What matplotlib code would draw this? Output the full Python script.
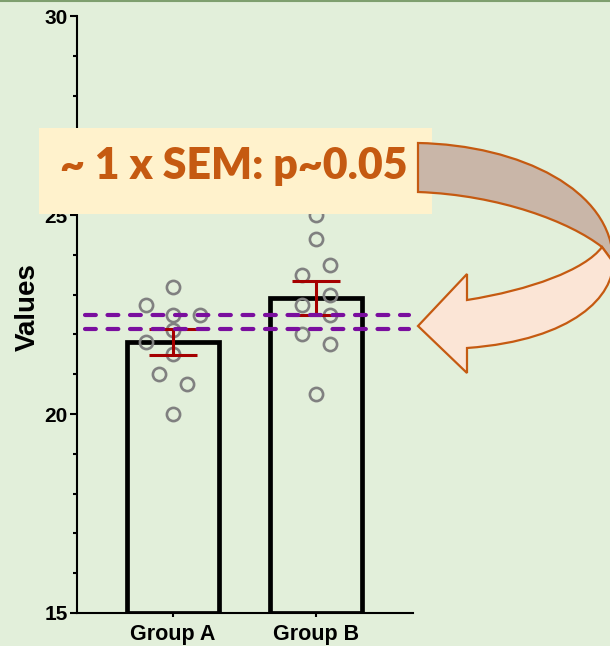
import numpy as np
import matplotlib
matplotlib.use("Agg")
import matplotlib.pyplot as plt
from matplotlib.path import Path
from matplotlib.patches import PathPatch, Rectangle

# ---------------- data ----------------
groups = ["Group A", "Group B"]
values_a = [23.2, 22.75, 22.5, 22.5, 22.1, 21.8, 21.5, 21.0, 20.75, 20.0]
values_b = [25.0, 24.4, 23.75, 23.5, 23.0, 22.75, 22.5, 22.0, 21.75, 20.5]
y_ticks = [15, 20, 25, 30]
annotation = "~ 1 x SEM: p~0.05"

# layout (jitter of the points inside each column)
jitter_a = [0, -0.19, 0, 0.19, 0, -0.19, 0, -0.095, 0.095, 0]
jitter_b = [0, 0, 0.095, -0.095, 0.095, -0.095, 0.095, -0.095, 0.095, 0]

BG = "#e2efda"
W, H = 610, 646
fig = plt.figure(figsize=(W / 100, H / 100), dpi=100, facecolor=BG)
plt.rcParams["font.family"] = ["Liberation Sans", "DejaVu Sans"]

ax = fig.add_axes([77 / W, 1 - 613 / H, (413 - 77) / W, (613 - 16) / H])
ax.set_facecolor("none")

series = [values_a, values_b]
jitters = [jitter_a, jitter_b]
means = [np.mean(v) for v in series]
sems = [np.std(v, ddof=1) / np.sqrt(len(v)) for v in series]
xpos = np.arange(len(groups))

ax.bar(xpos, np.array(means) - 15, bottom=15, width=0.64, facecolor="none",
       edgecolor="black", linewidth=3.4, zorder=1)
for i, (v, j) in enumerate(zip(series, jitters)):
    ax.plot(xpos[i] + np.array(j), v, linestyle="none", marker="o", ms=9.5,
            mfc="none", mec="#808080", mew=1.9, zorder=2)
ax.errorbar(xpos, means, yerr=sems, fmt="none", ecolor="#a50000", elinewidth=2.2,
            capsize=17, capthick=2.2, zorder=3)

lines_y = [means[0] + sems[0], means[1] - sems[1]]
for yv in lines_y:
    ax.axhline(yv, xmin=0.024, xmax=0.988, color="#7a0e9e", lw=3.0,
               linestyle=(0, (2.6, 2.8)), dash_capstyle="round", zorder=4)

ax.set_xlim(-0.671, 1.678)
ax.set_ylim(15, 30)
ax.set_yticks(y_ticks)
ax.set_yticks(np.arange(15, 31, 1), minor=True)
ax.set_xticks(xpos)
ax.set_xticklabels(groups, fontsize=15.5, fontweight="bold")
ax.tick_params(axis="y", which="major", length=5, width=1.5, labelsize=15, pad=1.5)
ax.tick_params(axis="y", which="minor", length=3, width=1.5)
ax.tick_params(axis="x", which="major", length=3, width=1.5, pad=5)
for lab in ax.get_yticklabels():
    lab.set_fontweight("bold")
for s in ["top", "right"]:
    ax.spines[s].set_visible(False)
for s in ["left", "bottom"]:
    ax.spines[s].set_linewidth(1.5)

fig.text(28 / W, 1 - 307 / H, "Values", rotation=90, ha="center", va="center",
         fontsize=20, fontweight="bold")

# ---------------- overlay (pixel coordinates) ----------------
ov = fig.add_axes([0, 0, 1, 1])
ov.set_xlim(0, W)
ov.set_ylim(H, 0)
ov.axis("off")
ov.set_facecolor("none")

# top border line
ov.plot([0, W], [0.5, 0.5], color="#7f9f6f", lw=1.5)

ov.add_patch(Rectangle((39, 128), 432 - 39, 213.5 - 128, facecolor="#fff2cc",
                       edgecolor="none", zorder=5))
txt = ov.text(60, 179.5, annotation, ha="left", va="baseline", color="#c55a11",
              fontsize=30, fontweight="heavy", family=["Lato", "DejaVu Sans"], zorder=6)
fig.canvas.draw()
bb = txt.get_window_extent(renderer=fig.canvas.get_renderer())
txt.set_fontsize(30 * 348 / bb.width)

OR = "#c55a11"
# upper (grey-brown) band
top_verts = [(418, 143), (520, 145), (613, 190), (613, 262),
             (602, 247),
             (570, 222), (500, 195), (418, 192),
             (418, 143)]
top_codes = [Path.MOVETO, Path.CURVE4, Path.CURVE4, Path.CURVE4,
             Path.LINETO,
             Path.CURVE4, Path.CURVE4, Path.CURVE4,
             Path.CLOSEPOLY]
ov.add_patch(PathPatch(Path(top_verts, top_codes), facecolor="#c9b6a8",
                       edgecolor=OR, lw=1.6, zorder=7, joinstyle="miter"))
# lower (peach) band with arrow head
low_verts = [(602, 247), (613, 262),
             (614, 295), (575, 340), (467, 348),
             (467, 373), (418, 326), (467, 274), (467, 300),
             (530, 290), (585, 270), (602, 247),
             (602, 247)]
low_codes = [Path.MOVETO, Path.LINETO,
             Path.CURVE4, Path.CURVE4, Path.CURVE4,
             Path.LINETO, Path.LINETO, Path.LINETO, Path.LINETO,
             Path.CURVE4, Path.CURVE4, Path.CURVE4,
             Path.CLOSEPOLY]
ov.add_patch(PathPatch(Path(low_verts, low_codes), facecolor="#fbe5d6",
                       edgecolor=OR, lw=1.6, zorder=7, joinstyle="miter"))

fig.savefig("out.png", dpi=100, facecolor=BG)
